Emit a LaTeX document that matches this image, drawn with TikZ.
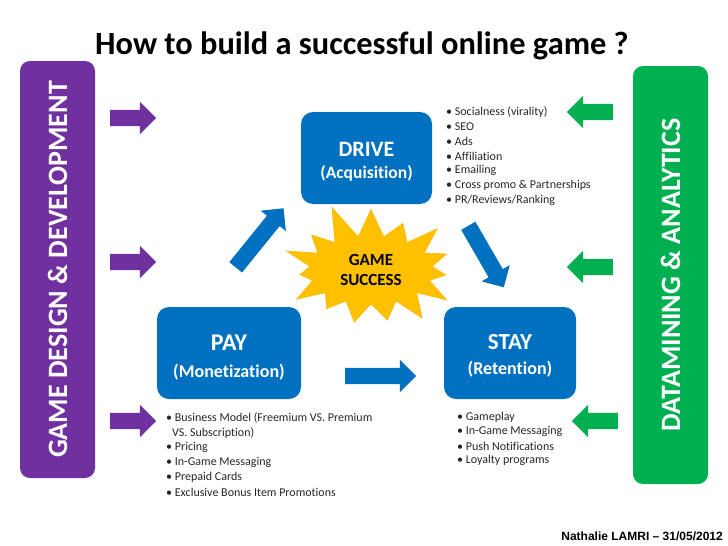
\documentclass[tikz,border=0pt]{standalone}
\usepackage{fontspec}
\setmainfont{Carlito}[Ligatures={TeX,NoCommon}]
\newfontfamily\signfont{Liberation Sans}
\usetikzlibrary{shapes.arrows,shapes.symbols}
\definecolor{gpurple}{HTML}{7030A0}
\definecolor{ggreen}{HTML}{00B050}
\definecolor{gblue}{HTML}{0070C0}
\definecolor{ggold}{HTML}{FFC000}
\definecolor{gtext}{HTML}{262626}
\begin{document}
\begin{tikzpicture}
[   x=1pt,y=-1pt,
    sidebar/.style={fill=#1,rounded corners=10pt,rotate=90,minimum width=417pt,minimum height=75pt,inner sep=0pt,
        text=white,font=\fontsize{28}{28}\selectfont\bfseries},
    stage/.style={fill=gblue,rounded corners=12pt,minimum width=#1,minimum height=92pt,inner sep=0pt,
        text=white,align=center,font=\bfseries},
    blockarrow/.style={single arrow,fill=#1,single arrow head extend=8pt,single arrow head indent=0pt,
        inner xsep=0pt,inner ysep=8pt},
    item/.style={anchor=west,inner sep=0pt,text=gtext,font=\fontsize{12}{14}\selectfont},
]
    \useasboundingbox (0,0) rectangle (728,546);
    \node[anchor=base west,inner sep=0pt,font=\fontsize{32.4}{32}\selectfont\bfseries] (title) at (95,54)
        {How to build a successful online game ?};
    % side bars
    \node[sidebar=gpurple] (design) at (57.5,269.5) {GAME DESIGN \& DEVELOPMENT};
    \node[sidebar=ggreen,minimum width=418pt] (analytics) at (670.5,275) {DATAMINING \& ANALYTICS};
    \foreach \y [count=\i] in {118,262,421}
    {   \node[blockarrow=gpurple,minimum height=46pt] (in-\i) at (129,\y) {};
    }
    \foreach \y/\x [count=\i] in {112/594,267/594,421/599}
    {   \node[blockarrow=ggreen,minimum height=46pt,rotate=180] (out-\i) at (\x,\y) {};
    }
    % the three stages
    \node[stage=131pt] (drive) at (366.5,158)
        {\rule{0pt}{21pt}{\fontsize{22}{22}\selectfont DRIVE}\\[8pt]{\fontsize{17.5}{18}\selectfont (Acquisition)}};
    \node[stage=144pt] (pay) at (229,353)
        {\rule{0pt}{25pt}{\fontsize{24}{24}\selectfont PAY}\\[12pt]{\fontsize{18}{18}\selectfont (Monetization)}};
    \node[stage=132pt] (stay) at (510,353)
        {\rule{0pt}{20.5pt}{\fontsize{23}{23}\selectfont STAY}\\[11pt]{\fontsize{18}{18}\selectfont (Retention)}};
    \node[starburst,fill=ggold,draw=ggold!85!orange,minimum width=195pt,minimum height=140pt,
        starburst points=15,starburst point height=36pt,random starburst=11,
        align=center,font=\fontsize{17}{20}\selectfont\bfseries] (success) at (371,270) {GAME\\SUCCESS};
    \node[blockarrow=gblue,minimum height=76pt,rotate=51] (pay-drive) at (257,241) {};
    \node[blockarrow=gblue,minimum height=71pt,rotate=-60] (drive-stay) at (484,253) {};
    \node[blockarrow=gblue,minimum height=71pt] (pay-stay) at (376.5,376) {};
    % bullet lists
    \foreach \t [count=\i] in {Socialness (virality),SEO,Ads,Affiliation,Emailing,
        Cross promo \& Partnerships,PR/Reviews/Ranking}
    {   \node[item] (d-\i) at (446,{112+14.7*(\i-1)}) {\textbullet\ \t};
    }
    \foreach \t [count=\i] in {Business Model (Freemium VS. Premium,\phantom{\textbullet}VS. Subscription),
        Pricing,In-Game Messaging,Prepaid Cards,Exclusive Bonus Item Promotions}
    {   \ifnum\i=2 \def\b{}\else\def\b{\textbullet\ }\fi
        \node[item] (p-\i) at (166,{418+14.8*(\i-1)}) {\b\t};
    }
    \foreach \t [count=\i] in {Gameplay,In-Game Messaging,Push Notifications,Loyalty programs}
    {   \node[item] (s-\i) at (457,{417+14.5*(\i-1)}) {\textbullet\ \t};
    }
    \node[anchor=base east,inner sep=0pt,font=\signfont\fontsize{12}{12}\selectfont\bfseries] (sign) at (723,540)
        {Nathalie LAMRI \textendash{} 31/05/2012};
\end{tikzpicture}
\end{document}
